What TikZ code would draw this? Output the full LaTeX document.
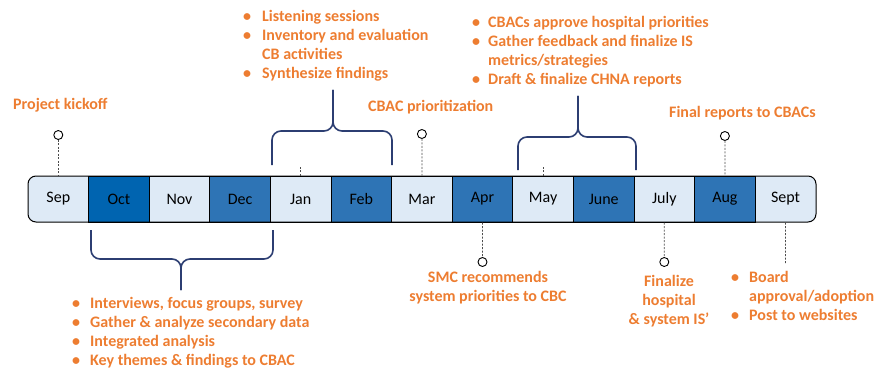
\documentclass[tikz,border=0pt]{standalone}
\usepackage{fontspec}
\setmainfont{Carlito}
\definecolor{orng}{HTML}{ED7D31}
\definecolor{lightb}{HTML}{DEEAF6}
\definecolor{darkb}{HTML}{2E74B5}
\definecolor{darkerb}{HTML}{0064B0}
\definecolor{bracec}{HTML}{2C3E72}
\begin{document}
\begin{tikzpicture}[x=1pt,y=-1pt,
 cell/.style={minimum width=60.6pt,minimum height=46pt,inner sep=0pt,font=\fontsize{16}{19}\selectfont,text=black,line width=1pt},
 pin/.style={circle,draw=black,fill=white,line width=0.9pt,minimum size=9pt,inner sep=0pt},
 conn/.style={draw=black!70,dash pattern=on 2pt off 1.5pt,line width=0.7pt},
 lab/.style={text=orng,font=\bfseries\fontsize{16}{19}\selectfont,inner sep=0pt,align=center},
 blist/.style={text=orng,font=\bfseries\fontsize{16}{19}\selectfont,inner sep=0pt,anchor=north west},
 brc/.style={draw=bracec,line width=1.6pt,rounded corners=9pt}]
\useasboundingbox (0,0) rectangle (876,369);
% bar
\fill[lightb, rounded corners=8pt] (28,176) rectangle (816,222);
\foreach \i/\t in {1/Sep,13/Sept}
  \node[cell] (m\i) at ({28+60.6*(\i-0.5)},199) {\t};
\foreach \i/\t/\c in {2/Oct/darkerb,3/Nov/lightb,4/Dec/darkb,5/Jan/lightb,6/Feb/darkb,7/Mar/lightb,8/Apr/darkb,9/May/lightb,10/June/darkb,11/July/lightb,12/Aug/darkb}
  \node[cell,draw=black,fill=\c] (m\i) at ({28+60.6*(\i-0.5)},199) {\t};
\draw[line width=1pt, rounded corners=8pt] (28,176) rectangle (816,222);
% milestones above
\node[pin] (p1) at (58.3,135) {};
\draw[conn] (p1.south) -- (m1.north);
\node[lab,anchor=west] (t1) at (13,105) {Project kickoff};
\node[pin] (p7) at (421.9,134) {};
\draw[conn] (p7.south) -- (m7.north);
\node[lab,anchor=west] (t7) at (368,107) {CBAC prioritization};
\node[pin] (p12) at (724.9,136) {};
\draw[conn] (p12.south) -- (m12.north);
\node[lab,anchor=west] (t12) at (669,113) {Final reports to CBACs};
% milestones below
\node[pin] (p8) at (482.5,262) {};
\draw[conn] (m8.south) -- (p8.north);
\node[lab] (t8) at (488,287.5) {SMC recommends\\system priorities to CBC};
\node[pin] (p11) at (664.3,262) {};
\draw[conn] (m11.south) -- (p11.north);
\node[lab] (t11) at (669,301.5) {Finalize\\hospital\\\& system IS’};
\coordinate (s13) at (785.5,263);
\draw[conn] (m13.south) -- (s13);
% small ticks
\draw[conn] (m5.north) -- ++(0,-9);
\draw[conn] (m9.north) -- ++(0,-9);
% braces
\draw[brc] (272,165) |- (333,131) -- (333,90);
\draw[brc] (392,165) |- (333,131) -- (333,90);
\draw[brc] (518,170) |- (578,137) -- (578,96);
\draw[brc] (636,170) |- (578,137) -- (578,96);
\draw[brc] (91,230) |- (181,259) -- (181,290);
\draw[brc] (273,230) |- (181,259) -- (181,290);
% bullet lists
\node[blist] (b1) at (243,8) {\begin{tabular}{@{}p{19pt}@{}l@{}}
\textbullet & Listening sessions\\
\textbullet & Inventory and evaluation\\
 & CB activities\\
\textbullet & Synthesize findings\end{tabular}};
\node[blist] (b2) at (472,14) {\begin{tabular}{@{}p{16pt}@{}l@{}}
\textbullet & CBACs approve hospital priorities\\
\textbullet & Gather feedback and finalize IS\\
 & metrics/strategies\\
\textbullet & Draft \& finalize CHNA reports\end{tabular}};
\node[blist] (b3) at (72,295) {\begin{tabular}{@{}p{18pt}@{}l@{}}
\textbullet & Interviews, focus groups, survey\\
\textbullet & Gather \& analyze secondary data\\
\textbullet & Integrated analysis\\
\textbullet & Key themes \& findings to CBAC\end{tabular}};
\node[blist] (b4) at (731,269) {\begin{tabular}{@{}p{18pt}@{}l@{}}
\textbullet & Board\\
 & approval/adoption\\
\textbullet & Post to websites\end{tabular}};
\end{tikzpicture}
\end{document}
